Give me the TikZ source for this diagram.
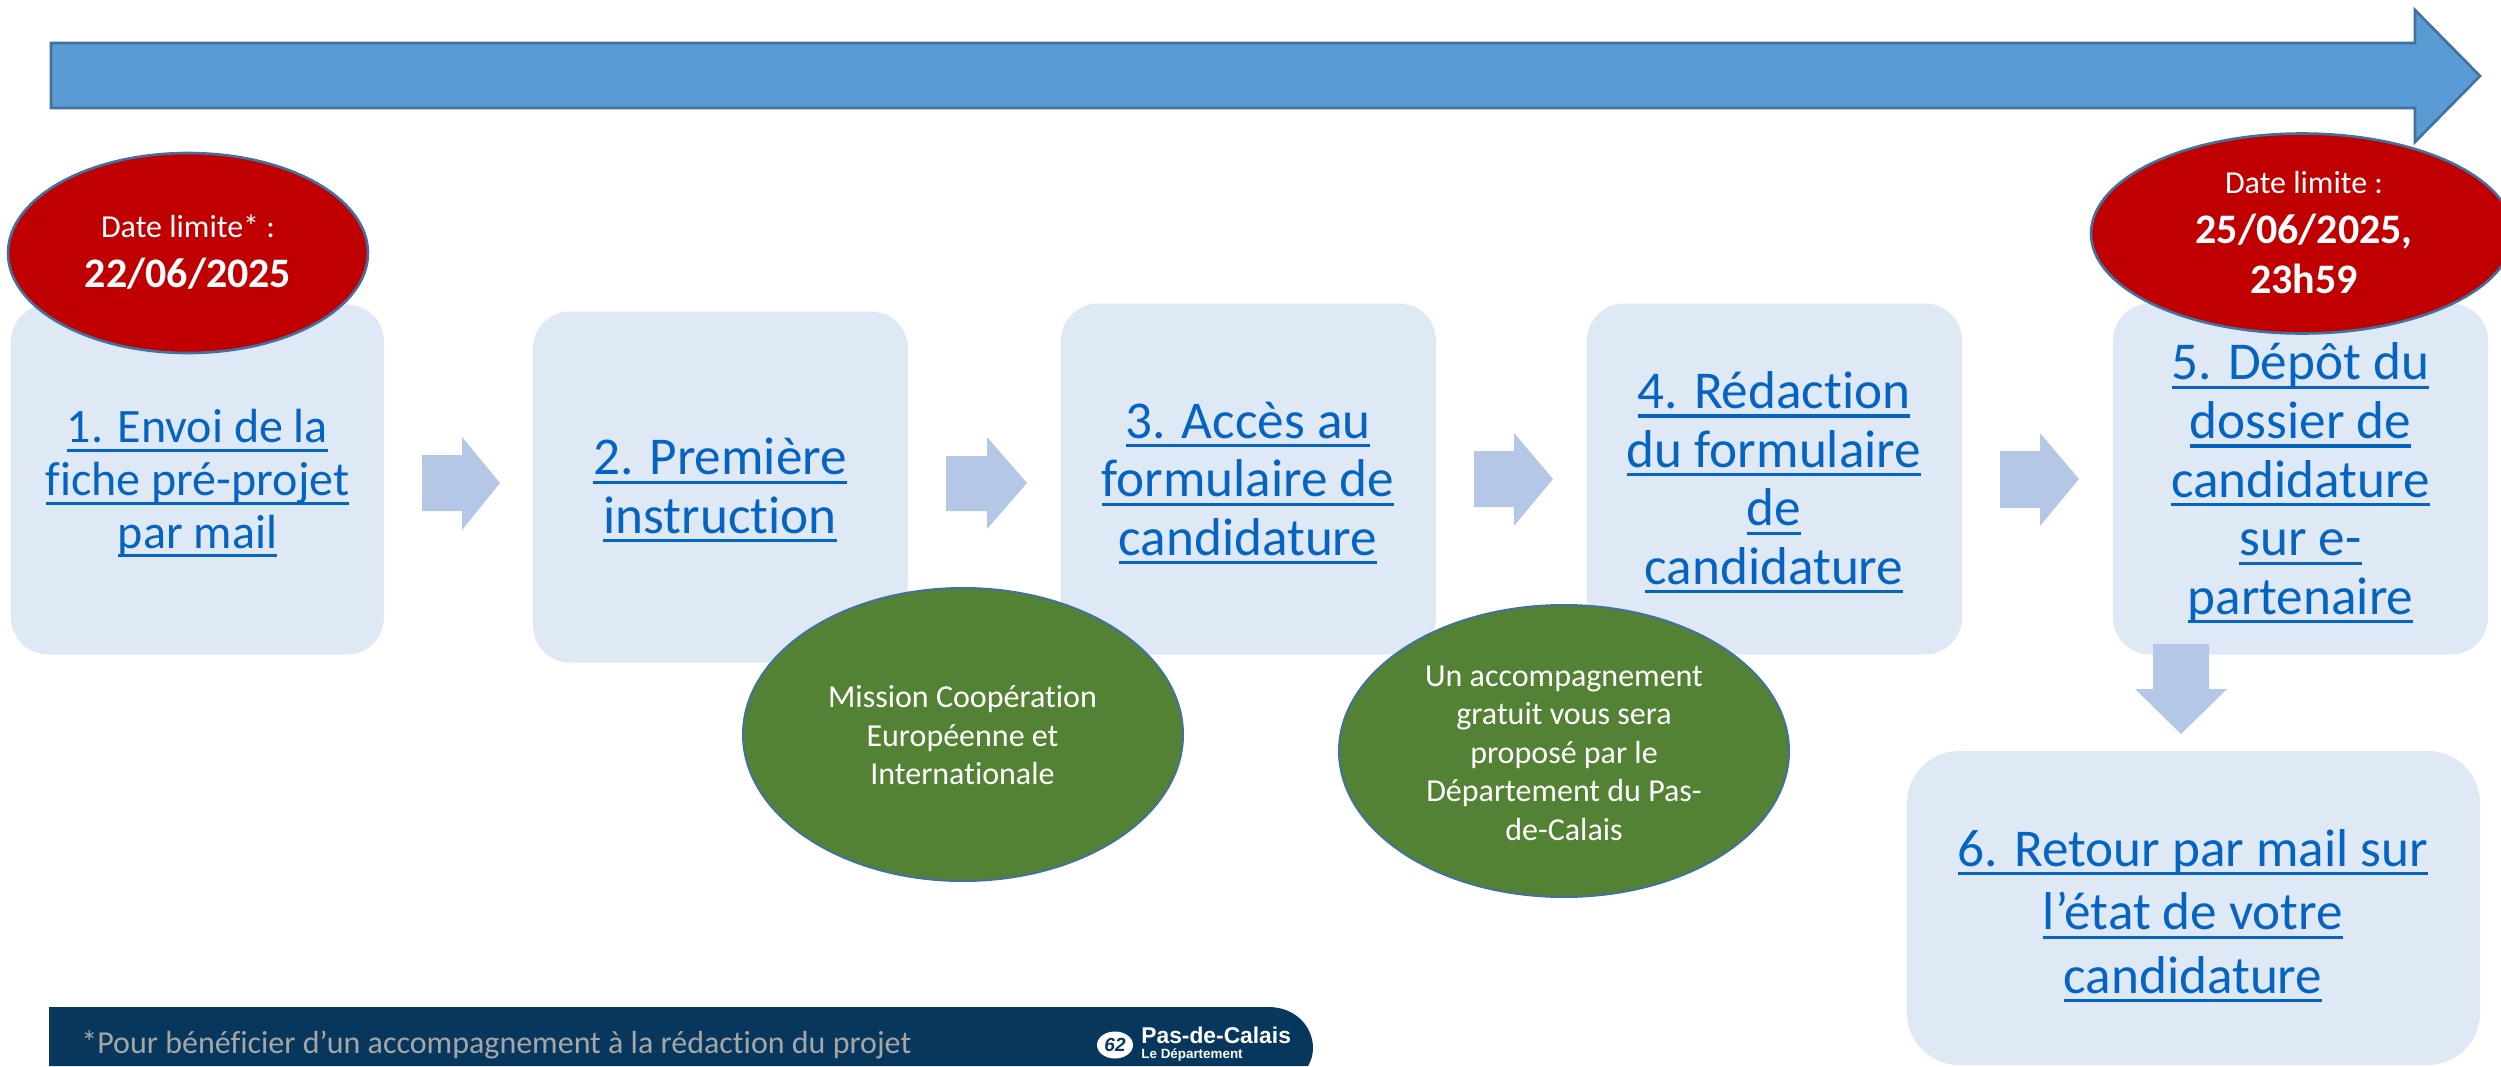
\documentclass[tikz,border=0pt]{standalone}
\usepackage{fontspec}
\setmainfont{Carlito}[Ligatures=NoCommon]
\newfontfamily\logofont{Liberation Sans}
\usetikzlibrary{shapes.geometric}
\definecolor{boxfill}{HTML}{DEE9F5}
\definecolor{linkblue}{HTML}{0563C1}
\definecolor{chevron}{HTML}{B4C7E7}
\definecolor{bigblue}{HTML}{5B9BD5}
\definecolor{edgeblue}{HTML}{41719C}
\definecolor{redfill}{HTML}{C00000}
\definecolor{greenfill}{HTML}{548235}
\definecolor{navy}{HTML}{07375C}
\definecolor{footgray}{HTML}{A6A6A6}
\newcommand{\lnk}[1]{\leavevmode\setbox0\hbox{#1}\rlap{\raisebox{-4.6pt}{\rule{\wd0}{1.6pt}}}\box0}
\tikzset{
  stepbox/.style={draw=none,fill=boxfill,rounded corners=18.5pt,inner sep=0pt},
  steptext/.style={anchor=base,align=center,text=linkblue,inner sep=0pt,yshift=-1.1pt,font=\fontsize{26.6}{29.3}\selectfont},
  smalltext/.style={steptext,font=\fontsize{24}{26.35}\selectfont},
  flow/.style={fill=chevron,draw=none},
  redoval/.style={ellipse,draw=edgeblue,fill=redfill,line width=1.3pt,inner sep=0pt},
  greenoval/.style={ellipse,draw=edgeblue,fill=greenfill,line width=1pt,inner sep=0pt},
  redtext/.style={anchor=base,align=center,text=white,inner sep=0pt,font=\fontsize{21}{25}\selectfont\bfseries},
  greentext/.style={anchor=base,align=center,text=white,inner sep=0pt,yshift=-0.8pt,font=\fontsize{16}{19.2}\selectfont},
}
\begin{document}
\begin{tikzpicture}[x=0.5pt,y=-0.5pt]
\clip (0,0) rectangle (2501,1066);
\path[use as bounding box] (0,0) rectangle (2501,1066);
% main arrow
\draw[fill=bigblue,draw=edgeblue,line width=1.3pt] (51,43) -- (2415,43) -- (2415,10) -- (2480,76) -- (2415,142) -- (2415,108) -- (51,108) -- cycle;
% boxes
\node[stepbox,minimum width=186.5pt,minimum height=175pt] (b1) at (197.5,479.5) {};
\node[stepbox,minimum width=187.5pt,minimum height=175.5pt] (b2) at (720.5,487) {};
\node[stepbox,minimum width=187.5pt,minimum height=175.5pt] (b3) at (1248.5,479) {};
\node[stepbox,minimum width=187.5pt,minimum height=175.5pt] (b4) at (1774.5,479) {};
\node[stepbox,minimum width=187.5pt,minimum height=175.5pt] (b5) at (2300.5,479) {};
\node[stepbox,minimum width=286.5pt,minimum height=157pt,rounded corners=26pt] (b6) at (2193.5,908) {};
% block arrows
\fill[flow] (422,455) -- (462,455) -- (462,437) -- (500,483) -- (462,530) -- (462,511) -- (422,511) -- cycle;
\fill[flow] (946,456) -- (987,456) -- (987,437) -- (1027,483) -- (987,529) -- (987,511) -- (946,511) -- cycle;
\fill[flow] (1474,451) -- (1514,451) -- (1514,433) -- (1553,479) -- (1514,526) -- (1514,507) -- (1474,507) -- cycle;
\fill[flow] (2000,451) -- (2040,451) -- (2040,433) -- (2079,479) -- (2040,526) -- (2040,508) -- (2000,508) -- cycle;
\fill[flow] (2153,644) -- (2209,644) -- (2209,689) -- (2227,689) -- (2181,734) -- (2135,689) -- (2153,689) -- cycle;
% step labels
\node[smalltext] (t1) at (197.5,546) {\lnk{1. Envoi de la}\\\lnk{fiche pré-projet}\\\lnk{par mail}};
\node[steptext] (t2) at (720,531) {\lnk{2. Première}\\\lnk{instruction}};
\node[steptext] (t3) at (1248,553) {\lnk{3. Accès au}\\\lnk{formulaire de}\\\lnk{candidature}};
\node[steptext] (t4) at (1774,582) {\lnk{4. Rédaction}\\\lnk{du formulaire}\\\lnk{de}\\\lnk{candidature}};
\node[steptext] (t5) at (2300.5,612) {\lnk{5. Dépôt du}\\\lnk{dossier de}\\\lnk{candidature}\\\lnk{sur e-}\\\lnk{partenaire}};
\node[steptext,font=\fontsize{26.6}{31.8}\selectfont] (t6) at (2193,991) {\lnk{6. Retour par mail sur}\\\lnk{l’état de votre}\\\lnk{candidature}};
% red ovals
\node[redoval,minimum width=180pt,minimum height=100pt] (r1) at (188,253) {};
\node[redoval,minimum width=211pt,minimum height=100pt] (r5) at (2302,233.5) {};
\node[redtext] (rt1) at (188,287) {{\fontsize{16}{19}\mdseries\selectfont Date limite* :}\\22/06/2025};
\node[redtext] (rt5) at (2304,293) {{\fontsize{16}{19}\mdseries\selectfont Date limite :}\\25/06/2025,\\23h59};
% green ovals
\node[greenoval,minimum width=220pt,minimum height=146.5pt] (g1) at (963,734.5) {};
\node[greenoval,minimum width=225pt,minimum height=146pt] (g2) at (1564,751) {};
\node[greentext] (gt1) at (962.5,783) {Mission Coopération\\Européenne et\\Internationale};
\node[greentext] (gt2) at (1564,838.5) {Un accompagnement\\gratuit vous sera\\proposé par le\\Département du Pas-\\de-Calais};
% footer
\fill[navy] (49,1007) -- (1268,1007) .. controls (1297,1007) and (1313,1028) .. (1313,1048) .. controls (1313,1055) and (1311,1061) .. (1308,1066) -- (49,1066) -- cycle;
\node[anchor=base west,inner sep=0pt,text=footgray,font=\fontsize{16}{19}\selectfont] (foot) at (81,1053) {*Pour bénéficier d’un accompagnement à la rédaction du projet};
\node[ellipse,fill=white,minimum width=18pt,minimum height=13.5pt,inner sep=0pt,text=navy,font=\logofont\bfseries\itshape\fontsize{9.5}{10}\selectfont] (logo) at (1115,1045) {62};
\node[anchor=base west,inner sep=0pt,text=white,font=\logofont\bfseries\fontsize{11.4}{14}\selectfont] (pdc) at (1141,1043) {Pas-de-Calais};
\node[anchor=base west,inner sep=0pt,text=white,font=\logofont\bfseries\fontsize{6.7}{8}\selectfont] (dept) at (1141,1058) {Le Département};
\end{tikzpicture}
\end{document}
